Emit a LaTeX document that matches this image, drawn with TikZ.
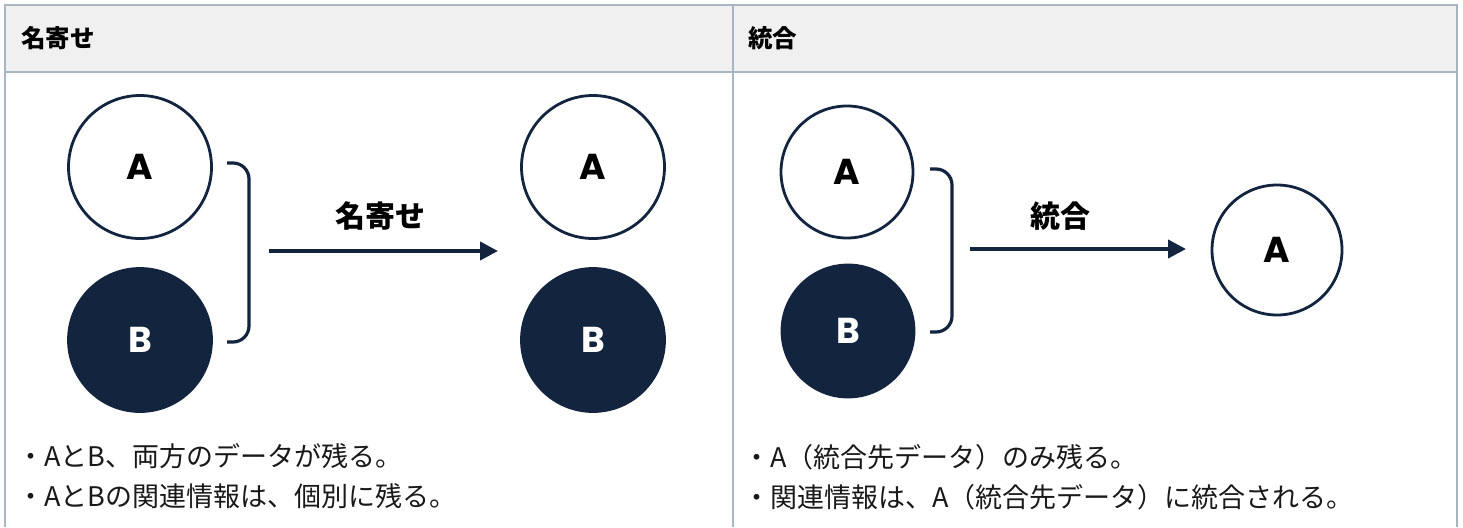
\documentclass[tikz,border=0pt]{standalone}
\usepackage{fontspec}
\newfontfamily\jp{Noto Sans CJK JP}
\newfontfamily\pop{Poppins}
\usetikzlibrary{arrows.meta}
\definecolor{navy}{HTML}{13243F}
\definecolor{rulec}{HTML}{A9B6C2}
\definecolor{headbg}{HTML}{F0F0F0}
\begin{document}
\begin{tikzpicture}[x=1pt,y=-1pt,
 circ/.style={circle,inner sep=0pt,line width=2.8pt,draw=navy},
 bigc/.style={circ,minimum size=143pt},
 smallc/.style={circ,minimum size=132pt},
 acirc/.style={fill=white,text=black,font=\pop\bfseries\fontsize{36}{36}\selectfont},
 bcirc/.style={fill=navy,text=white,font=\pop\bfseries\fontsize{36}{36}\selectfont},
 brk/.style={draw=navy,line width=3.2pt,rounded corners=16pt},
 arr/.style={draw=navy,line width=4pt,-{Triangle[length=18pt,width=18pt]}},
 lbl/.style={font=\jp\bfseries\fontsize{30}{30}\selectfont,inner sep=0pt,text=black},
 head/.style={font=\jp\bfseries\fontsize{24.5}{24.5}\selectfont,anchor=west,inner sep=0pt,text=black},
 body/.style={font=\jp\fontsize{27}{27}\selectfont,anchor=west,inner sep=0pt,text=black!90},
 tline/.style={draw=rulec,line width=2.5pt}]
\useasboundingbox (0,0) rectangle (1463,527);
% table
\fill[headbg] (5,5) rectangle (1457,72);
\draw[tline] (5,527) -- (5,5) -- (1457,5) -- (1457,527);
\draw[tline] (5,72) -- (1457,72);
\draw[tline] (733,5) -- (733,527);
\node[head] (h1) at (21,38) {名寄せ};
\node[head] (h2) at (748,38) {統合};
% left panel
\node[bigc,acirc] (a1) at (140,167) {A};
\node[bigc,bcirc] (b1) at (140,340) {B};
\node[bigc,acirc] (a2) at (593,167) {A};
\node[bigc,bcirc] (b2) at (593,340) {B};
\coordinate (k1t) at (227,163);
\coordinate (k1b) at (227,342);
\draw[brk] (k1t) -- (249,163) -- (249,342) -- (k1b);
\coordinate (r1s) at (269,251);
\coordinate (r1e) at (498,251);
\draw[arr] (r1s) -- (r1e);
\node[lbl] (l1) at (380,216) {名寄せ};
\node[body] (t1) at (17,456) {・AとB、両方のデータが残る。};
\node[body] (t2) at (17,496) {・AとBの関連情報は、個別に残る。};
% right panel
\node[smallc,acirc] (a3) at (847,172) {A};
\node[smallc,bcirc] (b3) at (848,331) {B};
\node[circ,minimum size=130pt,acirc] (a4) at (1277,250) {A};
\coordinate (k2t) at (930,169);
\coordinate (k2b) at (930,332);
\draw[brk] (k2t) -- (952,169) -- (952,332) -- (k2b);
\coordinate (r2s) at (970,249);
\coordinate (r2e) at (1186,249);
\draw[arr] (r2s) -- (r2e);
\node[lbl] (l2) at (1060,216) {統合};
\node[body] (t3) at (743,457) {・A（統合先データ）のみ残る。};
\node[body] (t4) at (743,497) {・関連情報は、A（統合先データ）に統合される。};
\end{tikzpicture}
\end{document}
